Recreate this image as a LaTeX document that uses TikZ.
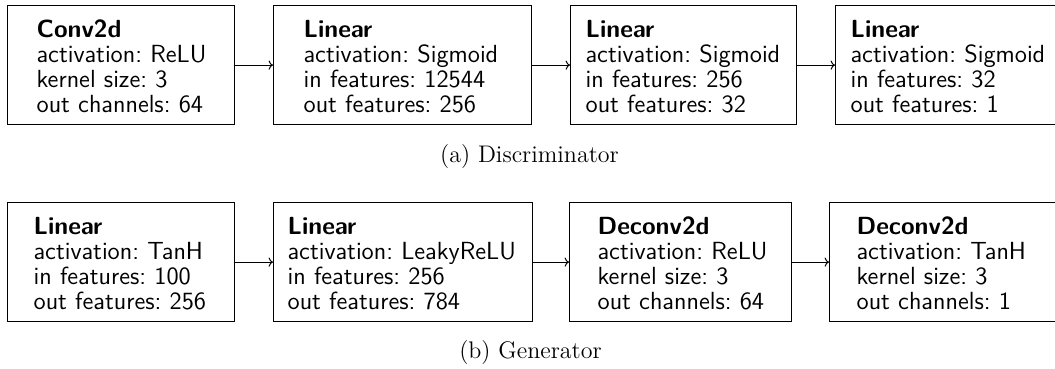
\documentclass[tikz,border=0pt]{standalone}
\usepackage{fontspec}
\usetikzlibrary{arrows.meta}
\frenchspacing
\newcommand\layerlines[4]{\begin{tabular}{@{}l@{}}\rule{0pt}{13.5pt}\textbf{#1}\\#2\\#3\\#4\end{tabular}}
\begin{document}
\begin{tikzpicture}[x=0.5pt,y=-0.5pt,
  blk/.style 2 args={draw, line width=0.6pt, anchor=north west, align=left,
    inner xsep=#2*0.5pt, text width=(#1-2*#2)*0.5pt, inner ysep=0pt, minimum height=59.5pt,
    font=\sffamily\fontsize{12.4pt}{12.5pt}\selectfont},
  captxt/.style={font=\rmfamily\fontsize{12pt}{14pt}\selectfont, inner sep=0pt},
  conn/.style={-{To[length=2.2pt,width=4.6pt]}, line width=0.5pt}]
\useasboundingbox (0,0) rectangle (1055,369);
% Discriminator
\node[blk={227}{29}] (d1) at (7,5) {\layerlines{Conv2d}{activation: ReLU}{kernel size: 3}{out channels: 64}};
\node[blk={258}{30}] (d2) at (273,5) {\layerlines{Linear}{activation: Sigmoid}{in features: 12544}{out features: 256}};
\node[blk={226}{15}] (d3) at (570,5) {\layerlines{Linear}{activation: Sigmoid}{in features: 256}{out features: 32}};
\node[blk={240}{15}] (d4) at (835,5) {\layerlines{Linear}{activation: Sigmoid}{in features: 32}{out features: 1}};
\draw[conn] (d1.east) -- (d2.west);
\draw[conn] (d2.east) -- (d3.west);
\draw[conn] (d3.east) -- (d4.west);
\node[captxt] (ca) at (529.5,157) {(a) Discriminator};
% Generator
\node[blk={227}{26}] (g1) at (7,202) {\layerlines{Linear}{activation: TanH}{in features: 100}{out features: 256}};
\node[blk={259}{14}] (g2) at (273,202) {\layerlines{Linear}{activation: LeakyReLU}{in features: 256}{out features: 784}};
\node[blk={222}{28}] (g3) at (569,202) {\layerlines{Deconv2d}{activation: ReLU}{kernel size: 3}{out channels: 64}};
\node[blk={250}{27}] (g4) at (829,202) {\layerlines{Deconv2d}{activation: TanH}{kernel size: 3}{out channels: 1}};
\draw[conn] (g1.east) -- (g2.west);
\draw[conn] (g2.east) -- (g3.west);
\draw[conn] (g3.east) -- (g4.west);
\node[captxt] (cb) at (530.5,353) {(b) Generator};
\end{tikzpicture}
\end{document}
